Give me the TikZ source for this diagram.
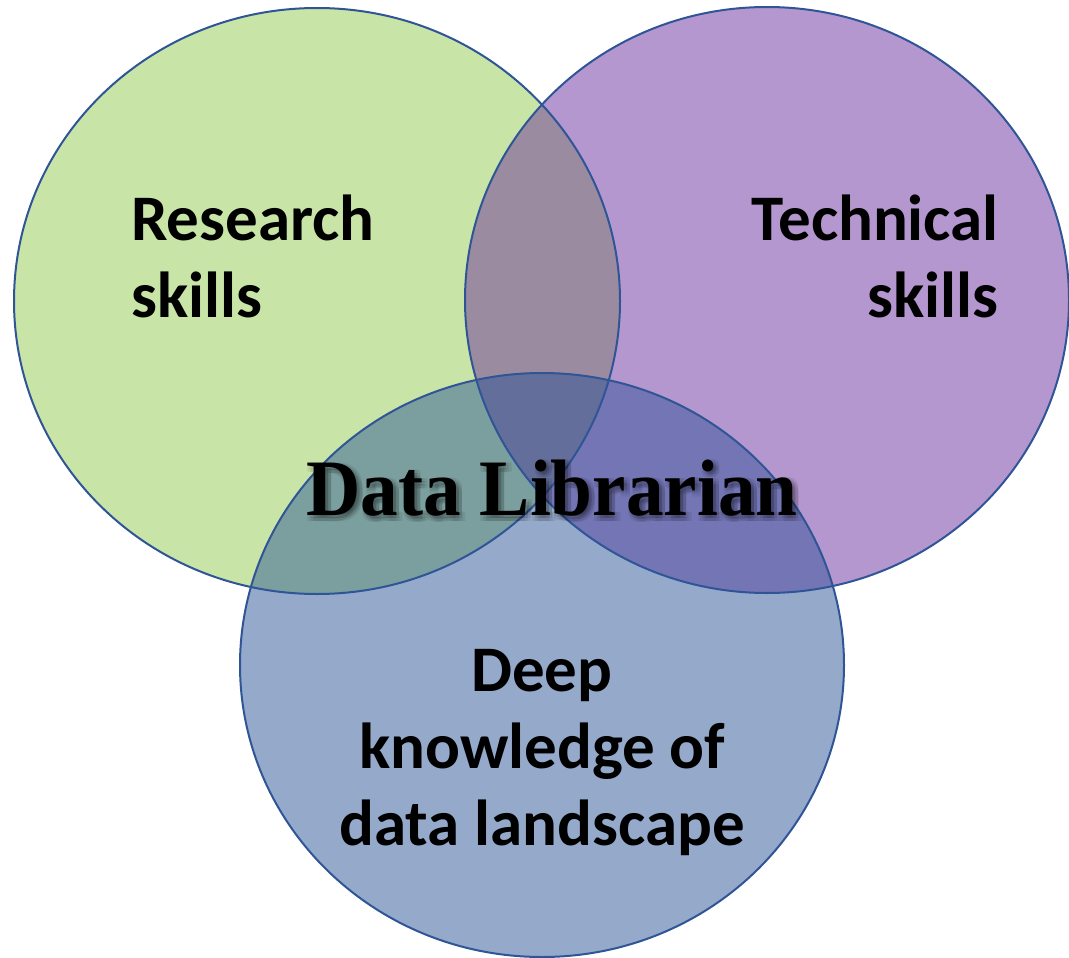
\documentclass[tikz,border=0pt]{standalone}
\usepackage{fontspec}
\newfontfamily\labelfont{Carlito}
\newfontfamily\titlefont{Liberation Serif}
\definecolor{edge}{HTML}{2F5597}
\definecolor{research}{HTML}{C8E5A7}
\definecolor{technical}{HTML}{B497CE}
\definecolor{deep}{HTML}{95A9CB}
\definecolor{researchtech}{HTML}{9B8BA0}
\definecolor{researchdeep}{HTML}{7B9F9E}
\definecolor{techdeep}{HTML}{7375B4}
\definecolor{allthree}{HTML}{646E9B}

\begin{document}
\begin{tikzpicture}
[x=1pt, y=-1pt, every node/.style={inner sep=0pt},
 ring/.style={line width=2pt, draw=edge},
 skill/.style={font=\labelfont\bfseries\fontsize{65}{77}\selectfont, text=black},
 title/.style={font=\titlefont\bfseries\fontsize{80}{90}\selectfont, xscale=0.94, transform shape}]
\useasboundingbox (0,0) rectangle (1069,958);
\fill [research] (317,301) ellipse [x radius=303, y radius=293];
\fill [technical] (767,300) ellipse [x radius=302, y radius=293];
\fill [deep] (542,665) ellipse [x radius=302, y radius=292];
\begin{scope}
\clip (317,301) ellipse [x radius=303, y radius=293];
\fill [researchtech] (767,300) ellipse [x radius=302, y radius=293];
\fill [researchdeep] (542,665) ellipse [x radius=302, y radius=292];
\end{scope}
\begin{scope}
\clip (767,300) ellipse [x radius=302, y radius=293];
\fill [techdeep] (542,665) ellipse [x radius=302, y radius=292];
\clip (317,301) ellipse [x radius=303, y radius=293];
\fill [allthree] (542,665) ellipse [x radius=302, y radius=292];
\end{scope}
\draw [ring] (317,301) ellipse [x radius=303, y radius=293];
\draw [ring] (767,300) ellipse [x radius=302, y radius=293];
\draw [ring] (542,665) ellipse [x radius=302, y radius=292];
\node (research) [skill, align=left, anchor=base west] at (131,317) {Research\\skills};
\node (technical) [skill, align=right, anchor=base east] at (999,317) {Technical\\skills};
\node (deep) [skill, align=center, anchor=base] at (542,845) {Deep\\knowledge of\\data landscape};
\foreach \dx in {0,3,6}
  \foreach \dy in {0,3,6}
    \node (shadow-\dx-\dy) [title, text=black, text opacity=0.07, anchor=base] at (552+\dx,515+\dy) {Data Librarian};
\node (librarian) [title, anchor=base] at (552,515) {Data Librarian};
\end{tikzpicture}
\end{document}
